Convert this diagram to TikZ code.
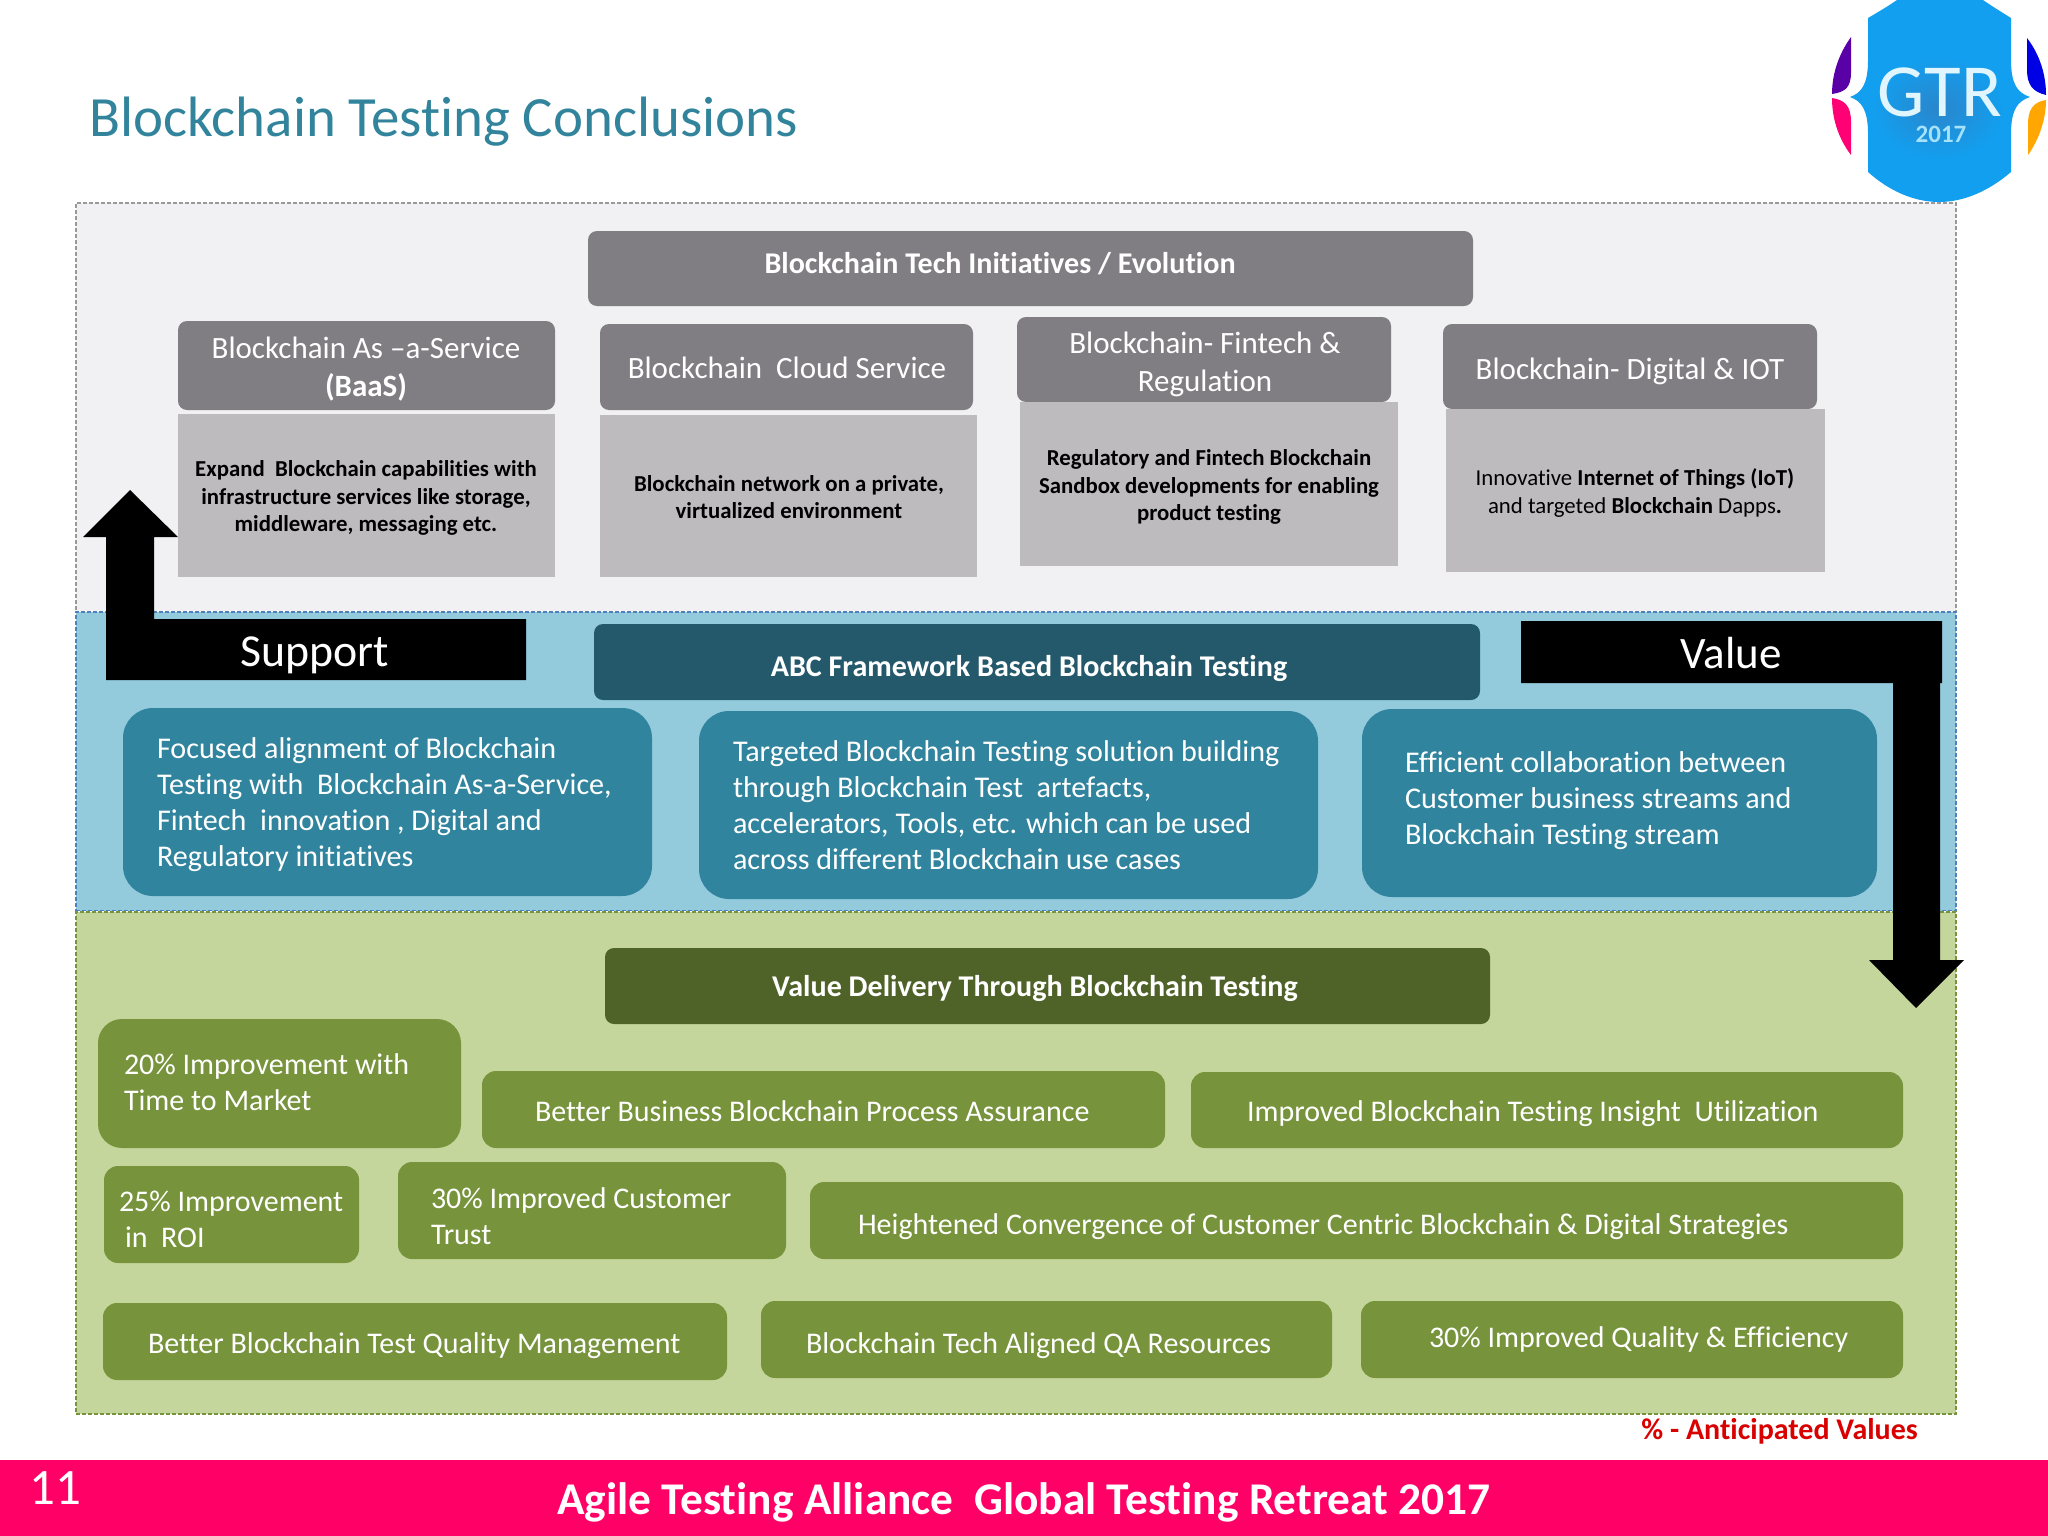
\documentclass[tikz,border=0pt]{standalone}
\usepackage{fontspec}
\setmainfont{Carlito}[Ligatures=NoCommon]
\definecolor{panelgray}{HTML}{F1F0F3}
\definecolor{panelblue}{HTML}{93CBDD}
\definecolor{panelgreen}{HTML}{C4D69B}
\definecolor{headgray}{HTML}{807E83}
\definecolor{boxgray}{HTML}{BDBBBE}
\definecolor{headteal}{HTML}{24596C}
\definecolor{teal}{HTML}{31849E}
\definecolor{olive}{HTML}{77933C}
\definecolor{darkolive}{HTML}{4F6228}
\definecolor{titleblue}{HTML}{31849B}
\definecolor{logoblue}{HTML}{129FEF}
\definecolor{logoshade}{HTML}{2A86CC}
\definecolor{pinkbar}{HTML}{FF0066}
\definecolor{borderblue}{HTML}{4F81BD}
\tikzset{
  panel/.style={preaction={draw=white,line width=1.2pt,solid},draw=#1,line width=1.2pt,dash pattern=on 4pt off 2pt},
  hbox/.style={rounded corners=9pt,fill=headgray,draw=none},
  gbox/.style={fill=boxgray,draw=none},
  tealhead/.style={rounded corners=9pt,fill=headteal,draw=none},
  tealbox/.style={rounded corners=30pt,fill=teal,draw=none},
  olivehead/.style={rounded corners=9pt,fill=darkolive,draw=none},
  olivebox/.style={rounded corners=14pt,fill=olive,draw=none},
  txt/.style={inner sep=0pt,outer sep=0pt,text=white},
  htxt/.style={txt,align=center,font=\fontsize{31}{38}\selectfont},
  btxt/.style={txt,align=center,font=\fontsize{30.1}{38}\selectfont\bfseries},
  dtxt/.style={inner sep=0pt,outer sep=0pt,text=black,align=center,font=\fontsize{22.8}{27.4}\selectfont\bfseries},
  ltxt/.style={txt,anchor=west,align=left,font=\fontsize{30.1}{36}\selectfont},
  gtxt/.style={txt,anchor=west,align=left,font=\fontsize{30}{36}\selectfont},
  bigtxt/.style={txt,font=\fontsize{45.8}{50}\selectfont},
}
\newcommand{\bx}[6]{%
  \pgfmathsetmacro{\bxw}{#4-#2}\pgfmathsetmacro{\bxh}{#5-#3}%
  \node[#6,inner sep=0pt,outer sep=0pt,anchor=north west,minimum width=\bxw pt,minimum height=\bxh pt] (#1) at (#2,#3) {};}
\begin{document}
\begin{tikzpicture}[x=1pt,y=-1pt]
\useasboundingbox (0,0) rectangle (2048,1536);
\fill[white] (0,0) rectangle (2048,1536);
% title
\node[inner sep=0pt,anchor=west,text=titleblue,font=\fontsize{56.9}{60}\selectfont] (title) at (89,122) {Blockchain Testing Conclusions};
% panels
\bx{ptop}{76}{203}{1956}{612}{panel=gray!80,fill=panelgray}
\bx{pmid}{76}{612}{1956}{911}{panel=borderblue,fill=panelblue}
\bx{pbot}{76}{912}{1956}{1414}{panel=olive,fill=panelgreen}
% logo
\begin{scope}
\clip (0,0) rectangle (2048,1536);
\fill[logoblue] (1868,60) -- (1868,18) .. controls (1885,8) and (1895,2) .. (1905,-6) -- (1975,-6) .. controls (1985,2) and (1995,8) .. (2011,18) -- (2011,60)
 .. controls (2011,85) and (2018,93) .. (2030,97) .. controls (2018,101) and (2011,109) .. (2011,134)
 -- (2011,172) .. controls (1990,190) and (1965,202) .. (1939,202) .. controls (1913,202) and (1888,190) .. (1868,172) -- (1868,134)
 .. controls (1868,109) and (1861,101) .. (1850,97) .. controls (1861,93) and (1868,85) .. (1868,60) -- cycle;
\shade[inner color=logoshade,outer color=logoblue] (1938,108) ellipse (66 and 52);
\fill[violet!70!blue] (1851,37) .. controls (1838,55) and (1832,75) .. (1832,94) .. controls (1845,92) and (1851,88) .. (1851,72) -- cycle;
\fill[blue!90!black] (2027,38) .. controls (2040,55) and (2046,75) .. (2046,95) .. controls (2033,92) and (2027,85) .. (2027,70) -- cycle;
\fill[pinkbar!90!magenta] (1832,98) .. controls (1845,100) and (1851,106) .. (1851,122) -- (1851,155) .. controls (1838,138) and (1832,118) .. (1832,98) -- cycle;
\fill[orange!70!yellow] (2046,100) .. controls (2033,102) and (2028,110) .. (2028,124) -- (2028,155) .. controls (2040,138) and (2046,118) .. (2046,100) -- cycle;
\end{scope}
\node[inner sep=0pt,text=cyan!12,text depth=0pt,text height=46pt,font=\fontsize{75}{75}\selectfont] (gtr) at (1940,94) {GTR};
\node[inner sep=0pt,text=cyan!35,font=\fontsize{25}{25}\selectfont\bfseries] (yr) at (1941,134) {2017};
% top
\bx{hinit}{588}{231}{1473}{306}{hbox}
\bx{hbaas}{178}{321}{555}{410}{hbox}
\bx{hcloud}{600}{324}{973}{410}{hbox}
\bx{hfin}{1017}{317}{1391}{402}{hbox}
\bx{hdig}{1443}{324}{1817}{409}{hbox}
\bx{gbaas}{178}{414}{555}{577}{gbox}
\bx{gcloud}{600}{415}{977}{577}{gbox}
\bx{gfin}{1020}{402}{1398}{566}{gbox}
\bx{gdig}{1446}{409}{1825}{572}{gbox}
\node[btxt] (tinit) at (1000,264) {Blockchain Tech Initiatives / Evolution};
\node[htxt] (tbaas) at (366,369) {Blockchain As –a-Service\\\textbf{(BaaS)}};
\node[htxt] (tcloud) at (787,368) {Blockchain\ \ Cloud Service};
\node[htxt] (tfin) at (1205,364) {Blockchain- Fintech \&\\Regulation};
\node[htxt] (tdig) at (1630,371) {Blockchain- Digital \& IOT};
\node[dtxt] (dbaas) at (366,498) {Expand\ \ Blockchain capabilities with\\infrastructure services like storage,\\middleware, messaging etc.};
\node[dtxt] (dcloud) at (789,497) {Blockchain network on a private,\\virtualized environment};
\node[dtxt] (dfin) at (1209,487) {Regulatory and Fintech Blockchain\\Sandbox developments for enabling\\product testing};
\node[dtxt,font=\fontsize{22.8}{27.4}\selectfont] (ddig) at (1635,493) {Innovative \textbf{Internet of Things (IoT)}\\and targeted \textbf{Blockchain} Dapps\textbf{.}};
% middle
\bx{habc}{594}{624}{1480}{700}{tealhead}
\bx{t1}{123}{708}{652}{896}{tealbox}
\bx{t2}{699}{711}{1318}{899}{tealbox}
\bx{t3}{1362}{709}{1877}{897}{tealbox}
\node[btxt] (tabc) at (1029,668) {ABC Framework Based Blockchain Testing};
\node[ltxt] (lt1) at (157,805) {Focused alignment of Blockchain\\Testing with\ \ Blockchain As-a-Service,\\Fintech\ \ innovation , Digital and\\Regulatory initiatives};
\node[ltxt] (lt2) at (733,805) {Targeted Blockchain Testing solution building\\through Blockchain Test\ \ artefacts,\\accelerators, Tools, etc. which can be used\\across different Blockchain use cases};
\node[ltxt] (lt3) at (1405,801) {Efficient collaboration between\\Customer business streams and\\Blockchain Testing stream};
% bottom
\bx{hval}{605}{948}{1490}{1024}{olivehead}
\node[btxt] (tval) at (1035,988) {Value Delivery Through Blockchain Testing};
\bx{o1}{98}{1019}{461}{1148}{olivebox,rounded corners=24pt}
\bx{o2}{482}{1071}{1165}{1148}{olivebox}
\bx{o3}{1191}{1072}{1903}{1148}{olivebox}
\bx{o4}{104}{1166}{359}{1263}{olivebox}
\bx{o5}{398}{1162}{786}{1259}{olivebox}
\bx{o6}{810}{1182}{1903}{1259}{olivebox}
\bx{o7}{103}{1303}{727}{1380}{olivebox}
\bx{o8}{761}{1301}{1332}{1378}{olivebox}
\bx{o9}{1361}{1301}{1903}{1378}{olivebox}
\node[gtxt] (g1) at (124,1082) {20\% Improvement with\\Time to Market};
\node[gtxt] (g2) at (535,1111) {Better Business Blockchain Process Assurance};
\node[gtxt] (g3) at (1247,1114) {Improved Blockchain Testing Insight\ \ Utilization};
\node[gtxt] (g4) at (119,1219) {25\% Improvement\\\hspace{6pt}in\ \ ROI};
\node[gtxt] (g5) at (431,1216) {30\% Improved Customer\\Trust};
\node[gtxt] (g6) at (858,1227) {Heightened Convergence of Customer Centric Blockchain \& Digital Strategies};
\node[gtxt] (g7) at (148,1346) {Better Blockchain Test Quality Management};
\node[gtxt] (g8) at (806,1346) {Blockchain Tech Aligned QA Resources};
\node[gtxt] (g9) at (1429,1339) {30\% Improved Quality \& Efficiency};
% arrows
\fill[black] (130,490) -- (178,537) -- (154,537) -- (154,619) -- (526,619) -- (526,680) -- (106,680) -- (106,537) -- (83,537) -- cycle;
\node[bigtxt] (tsup) at (315,655) {Support};
\fill[black] (1521,621) -- (1942,621) -- (1942,683) -- (1940,683) -- (1940,960) -- (1964,960) -- (1916,1008) -- (1869,960) -- (1893,960) -- (1893,683) -- (1521,683) -- cycle;
\node[bigtxt,font=\fontsize{45}{50}\selectfont] (tvalue) at (1731,653) {Value};
% footer
\node[inner sep=0pt,anchor=east,text=red!85!black,font=\fontsize{30}{30}\selectfont\bfseries] (antic) at (1918,1431) {\% - Anticipated Values};
\fill[pinkbar] (0,1460) rectangle (2048,1536);
\node[inner sep=0pt,text=white,font=\fontsize{51}{48}\selectfont] (pg) at (55,1488) {11};
\node[inner sep=0pt,text=white,font=\fontsize{45.4}{48}\selectfont\bfseries] (foot) at (1024,1502) {Agile Testing Alliance\ \ Global Testing Retreat 2017};
\end{tikzpicture}
\end{document}
